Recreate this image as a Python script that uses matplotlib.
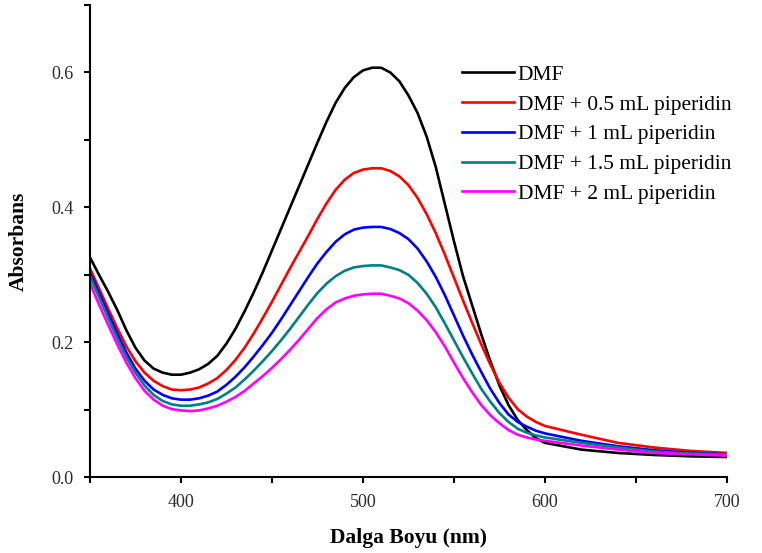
import matplotlib
matplotlib.use("Agg")
import matplotlib.pyplot as plt
from matplotlib.ticker import MultipleLocator

plt.rcParams['font.family'] = ['Liberation Serif', 'DejaVu Serif']

# wavelengths (nm): 5 nm steps up to 600, then 20 nm steps
wavelength = list(range(350, 605, 5)) + [620, 640, 660, 680, 700]

dmf = [0.326, 0.300, 0.275, 0.248, 0.218, 0.192, 0.173, 0.161, 0.155, 0.152,
       0.152, 0.155, 0.160, 0.168, 0.180, 0.198, 0.220, 0.246, 0.274, 0.304,
       0.336, 0.368, 0.400, 0.432, 0.464, 0.496, 0.527, 0.555, 0.577, 0.593,
       0.603, 0.607, 0.607, 0.600, 0.587, 0.566, 0.540, 0.505, 0.460, 0.405,
       0.350, 0.298, 0.255, 0.212, 0.172, 0.136, 0.107, 0.085, 0.070, 0.058,
       0.051, 0.041, 0.036, 0.033, 0.031, 0.030]
pip_05 = [0.310, 0.280, 0.250, 0.221, 0.194, 0.172, 0.155, 0.143, 0.135, 0.130,
          0.129, 0.130, 0.133, 0.139, 0.147, 0.159, 0.174, 0.192, 0.213, 0.236,
          0.260, 0.285, 0.310, 0.334, 0.358, 0.383, 0.406, 0.426, 0.441, 0.451,
          0.456, 0.458, 0.458, 0.454, 0.446, 0.433, 0.414, 0.390, 0.362, 0.330,
          0.296, 0.262, 0.229, 0.197, 0.167, 0.140, 0.118, 0.101, 0.090, 0.082,
          0.076, 0.063, 0.051, 0.044, 0.039, 0.036]
pip_1 = [0.304, 0.273, 0.243, 0.213, 0.185, 0.161, 0.143, 0.130, 0.122, 0.117,
         0.115, 0.115, 0.117, 0.121, 0.127, 0.137, 0.149, 0.163, 0.179, 0.196,
         0.214, 0.234, 0.255, 0.276, 0.297, 0.317, 0.334, 0.349, 0.360, 0.367,
         0.370, 0.371, 0.371, 0.368, 0.362, 0.353, 0.339, 0.320, 0.297, 0.270,
         0.240, 0.210, 0.182, 0.156, 0.131, 0.110, 0.093, 0.082, 0.075, 0.069,
         0.065, 0.054, 0.046, 0.040, 0.036, 0.034]
pip_15 = [0.298, 0.267, 0.236, 0.206, 0.178, 0.155, 0.136, 0.122, 0.113, 0.108,
          0.106, 0.106, 0.108, 0.111, 0.116, 0.124, 0.133, 0.145, 0.158, 0.172,
          0.187, 0.203, 0.220, 0.238, 0.256, 0.273, 0.287, 0.298, 0.306, 0.311,
          0.313, 0.314, 0.314, 0.311, 0.307, 0.300, 0.288, 0.272, 0.252, 0.228,
          0.203, 0.178, 0.154, 0.131, 0.112, 0.095, 0.082, 0.072, 0.066, 0.062,
          0.059, 0.051, 0.044, 0.038, 0.035, 0.034]
pip_2 = [0.288, 0.256, 0.226, 0.197, 0.170, 0.147, 0.128, 0.115, 0.106, 0.101,
         0.099, 0.098, 0.099, 0.102, 0.106, 0.112, 0.119, 0.128, 0.139, 0.150,
         0.162, 0.175, 0.189, 0.204, 0.220, 0.236, 0.249, 0.259, 0.265, 0.269,
         0.271, 0.272, 0.272, 0.269, 0.265, 0.258, 0.247, 0.233, 0.215, 0.194,
         0.170, 0.147, 0.126, 0.107, 0.092, 0.080, 0.070, 0.063, 0.059, 0.056,
         0.054, 0.047, 0.041, 0.036, 0.034, 0.032]

series = [dmf, pip_05, pip_1, pip_15, pip_2]
labels = ["DMF", "DMF + 0.5 mL piperidin", "DMF + 1 mL piperidin",
          "DMF + 1.5 mL piperidin", "DMF + 2 mL piperidin"]
colors = ["#000000", "#ff0000", "#0000ff", "#008080", "#ff00ff"]

fig = plt.figure(figsize=(7.62, 5.53), dpi=100)
ax = fig.add_axes([0.118, 0.137, 0.836, 0.854])

for y, lab, c in zip(series, labels, colors):
    ax.plot(wavelength, y, color=c, lw=1.9, label=lab)

ax.set_xlim(350, 700)
ax.set_ylim(0, 0.7)
ax.set_xticks([400, 500, 600, 700])
ax.xaxis.set_minor_locator(MultipleLocator(50))
ax.set_yticks([0.0, 0.2, 0.4, 0.6])
ax.set_yticklabels(["0.0", "0.2", "0.4", "0.6"])
ax.yaxis.set_minor_locator(MultipleLocator(0.1))

for s in ["top", "right"]:
    ax.spines[s].set_visible(False)
for s in ["left", "bottom"]:
    ax.spines[s].set_linewidth(1.5)

ax.tick_params(which="both", direction="out", length=4, width=1.5,
               labelsize=13, pad=8, labelcolor="#2a2a2a")

ax.set_xlabel("Dalga Boyu (nm)", fontsize=15.5, fontweight="bold", labelpad=12)
ax.set_ylabel("Absorbans", fontsize=15.5, fontweight="bold", labelpad=16)

ax.legend(loc="upper left", bbox_to_anchor=(0.567, 0.896), frameon=False, fontsize=15.5,
          handlelength=2.4, handletextpad=0.2, labelspacing=0.45, borderpad=0)

fig.savefig("out.png", dpi=100)
